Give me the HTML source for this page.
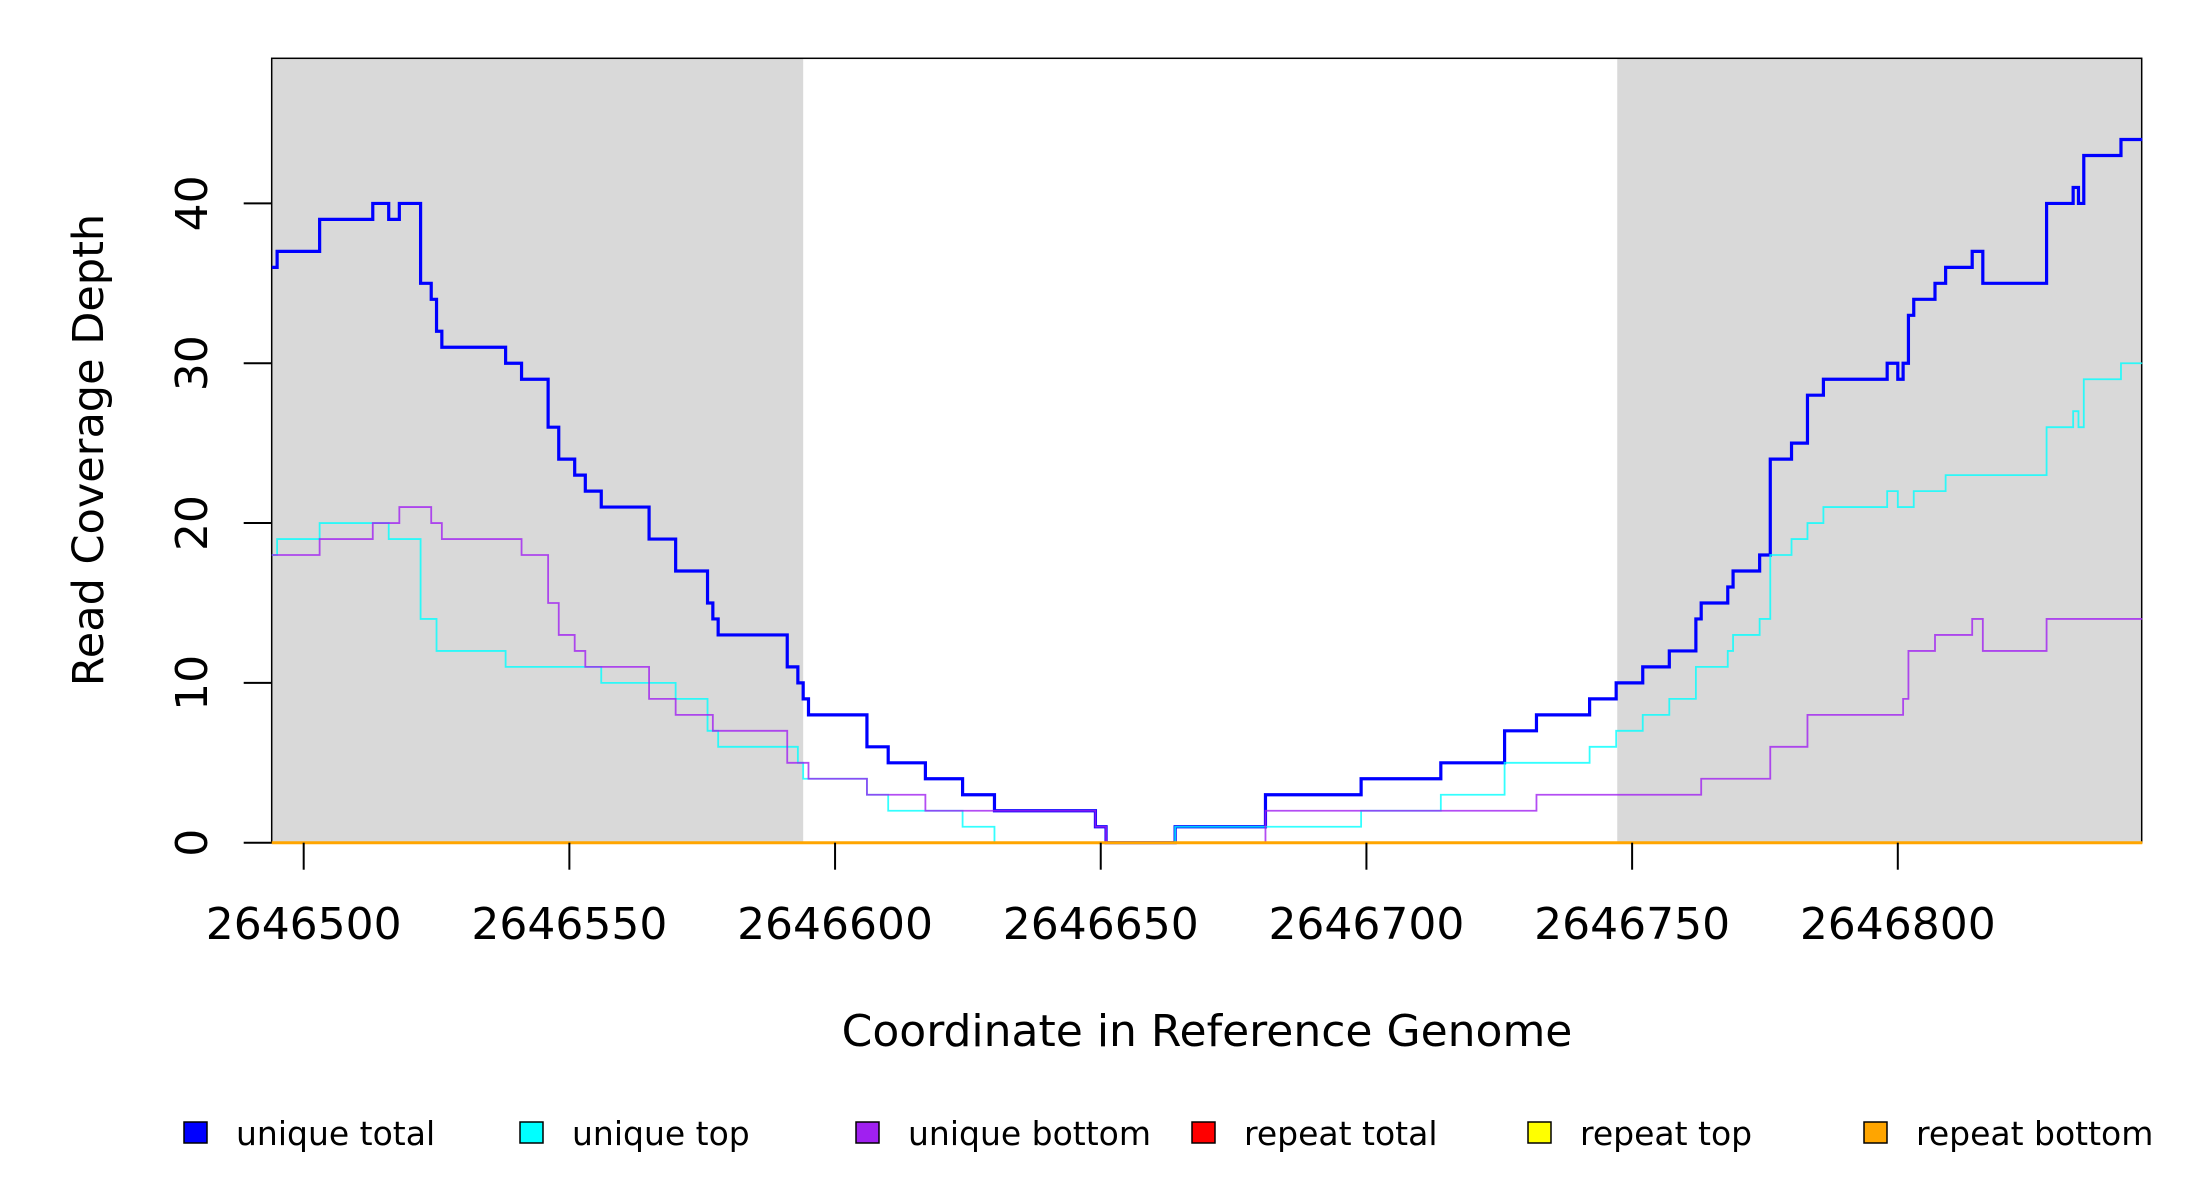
<!DOCTYPE html>
<html><head><meta charset="utf-8"><style>
html,body{margin:0;padding:0;background:#fff;}
svg{display:block;font-family:"DejaVu Sans","Liberation Sans",sans-serif;}
</style></head><body>
<svg id="chart" width="2200" height="1200" viewBox="0 0 2200 1200" xmlns="http://www.w3.org/2000/svg"></svg>
<script>
const BASE = 2646500;
const xTickLabels = ["2646500","2646550","2646600","2646650","2646700","2646750","2646800"];
const yTickLabels = ["0","10","20","30","40"];
const shadedRegions = [[-6.07, 94.0], [247.2, 345.9]];
const endX = 346;
const uniqueTotalX = [-6,-5,3,13,16,18,22,24,25,26,38,41,46,48,51,53,56,65,70,76,77,78,91,93,94,95,106,110,117,124,130,149,151,164,181,199,214,226,232,242,247,252,257,262,263,268,269,274,276,280,283,286,298,300,301,302,303,307,309,314,316,328,333,334,335,342];
const uniqueTotalY = [36,37,39,40,39,40,35,34,32,31,30,29,26,24,23,22,21,19,17,15,14,13,11,10,9,8,6,5,4,3,2,1,0,1,3,4,5,7,8,9,10,11,12,14,15,16,17,18,24,25,28,29,30,29,30,33,34,35,36,37,35,40,41,40,43,44];
const uniqueTopX = [-6,-5,3,16,22,25,38,56,70,76,78,93,94,106,110,124,130,164,199,214,226,242,247,252,257,262,268,269,274,276,280,283,286,298,300,303,309,328,333,334,335,342];
const uniqueTopY = [18,19,20,19,14,12,11,10,9,7,6,5,4,3,2,1,0,1,2,3,5,6,7,8,9,11,12,13,14,18,19,20,21,22,21,22,23,26,27,26,29,30];
const uniqueBottomX = [-6,3,13,18,24,26,41,46,48,51,53,65,70,77,91,95,106,117,149,151,181,232,263,276,283,301,302,307,314,316,328];
const uniqueBottomY = [18,19,20,21,20,19,18,15,13,12,11,9,8,7,5,4,3,2,1,0,2,3,4,6,8,9,12,13,14,12,14];
const repeatX = [-6];
const repeatTotalY = [0];
const repeatTopY = [0];
const repeatBottomY = [0];

const L=271.7, R=2141.7, T=58.3, B=842.7;
const xMin=-6.02, xMax=345.9, yMin=0, yMax=49.08;
function sx(v){return L+(v-xMin)/(xMax-xMin)*(R-L);}
function sy(v){return B-(v-yMin)/(yMax-yMin)*(B-T);}
const svg=document.getElementById('chart');
const NS="http://www.w3.org/2000/svg";
function mk(tag,attrs,parent){const e=document.createElementNS(NS,tag);for(const k in attrs)e.setAttribute(k,attrs[k]);(parent||svg).appendChild(e);return e;}

shadedRegions.forEach(r=>{
  const e=mk('rect',{x:sx(r[0]),y:T,width:sx(r[1])-sx(r[0]),height:B-T,fill:'#d9d9d9'});
  
  
});

const box=mk('rect',{x:L,y:T,width:R-L,height:B-T,fill:'none',stroke:'#000','stroke-width':1.5});



function stepPath(xs,ys){
  let d='M'+sx(xs[0])+' '+sy(ys[0]);
  for(let i=1;i<xs.length;i++){d+=' H'+sx(xs[i])+' V'+sy(ys[i]);}
  d+=' H'+sx(endX);
  return d;
}
const series=[
  ['unique-total-line',uniqueTotalX,uniqueTotalY,'#0000ff',3.2],
  ['unique-top-line',uniqueTopX,uniqueTopY,'#00ffff',1.8],
  ['unique-bottom-line',uniqueBottomX,uniqueBottomY,'#a020f0',1.8],
  ['repeat-total-line',repeatX,repeatTotalY,'#ff0000',1.8],
  ['repeat-top-line',repeatX,repeatTopY,'#ffff00',1.8],
  ['repeat-bottom-line',repeatX,repeatBottomY,'#ffa500',3]
];
series.forEach(s=>{
  const e=mk('path',{d:stepPath(s[1],s[2]),fill:'none',stroke:s[3],'stroke-width':s[4],opacity:(s[0]==='unique-total-line'||s[0]==='repeat-bottom-line')?1:0.8});
  
  
});

xTickLabels.forEach(t=>{
  const v=parseInt(t)-BASE, x=sx(v);
  const l=mk('line',{x1:x,x2:x,y1:B,y2:B+27,stroke:'#000','stroke-width':2});
  
  
  const tx=mk('text',{x:x,y:939,'font-size':44,'text-anchor':'middle',fill:'#000'});
  tx.textContent=t;
  
  
});
yTickLabels.forEach(t=>{
  const y=sy(parseFloat(t));
  const l=mk('line',{x1:L,x2:L-28,y1:y,y2:y,stroke:'#000','stroke-width':2});
  
  
  const tx=mk('text',{x:0,y:0,'font-size':44,'text-anchor':'middle',fill:'#000',transform:'translate(207,'+y+') rotate(-90)'});
  tx.textContent=t;
  
  
});
const xt=mk('text',{x:1207,y:1046,'font-size':44,'text-anchor':'middle',fill:'#000'});
xt.textContent='Coordinate in Reference Genome';


const yt=mk('text',{x:0,y:0,'font-size':43,'text-anchor':'middle',fill:'#000',transform:'translate(103,450) rotate(-90)'});
yt.textContent='Read Coverage Depth';



const legendLabels=['unique total','unique top','unique bottom','repeat total','repeat top','repeat bottom'];
const legendColors=['#0000ff','#00ffff','#a020f0','#ff0000','#ffff00','#ffa500'];
legendLabels.forEach((lab,i)=>{
  const tx0=236+i*336;
  const g=mk('g',{});
  
  
  mk('rect',{x:tx0-52,y:1122,width:23,height:21,fill:legendColors[i],stroke:'#000','stroke-width':1.5},g);
  const tx=mk('text',{x:tx0,y:1145,'font-size':33,fill:'#000'},g);
  tx.textContent=lab;
});
</script>
</body></html>
